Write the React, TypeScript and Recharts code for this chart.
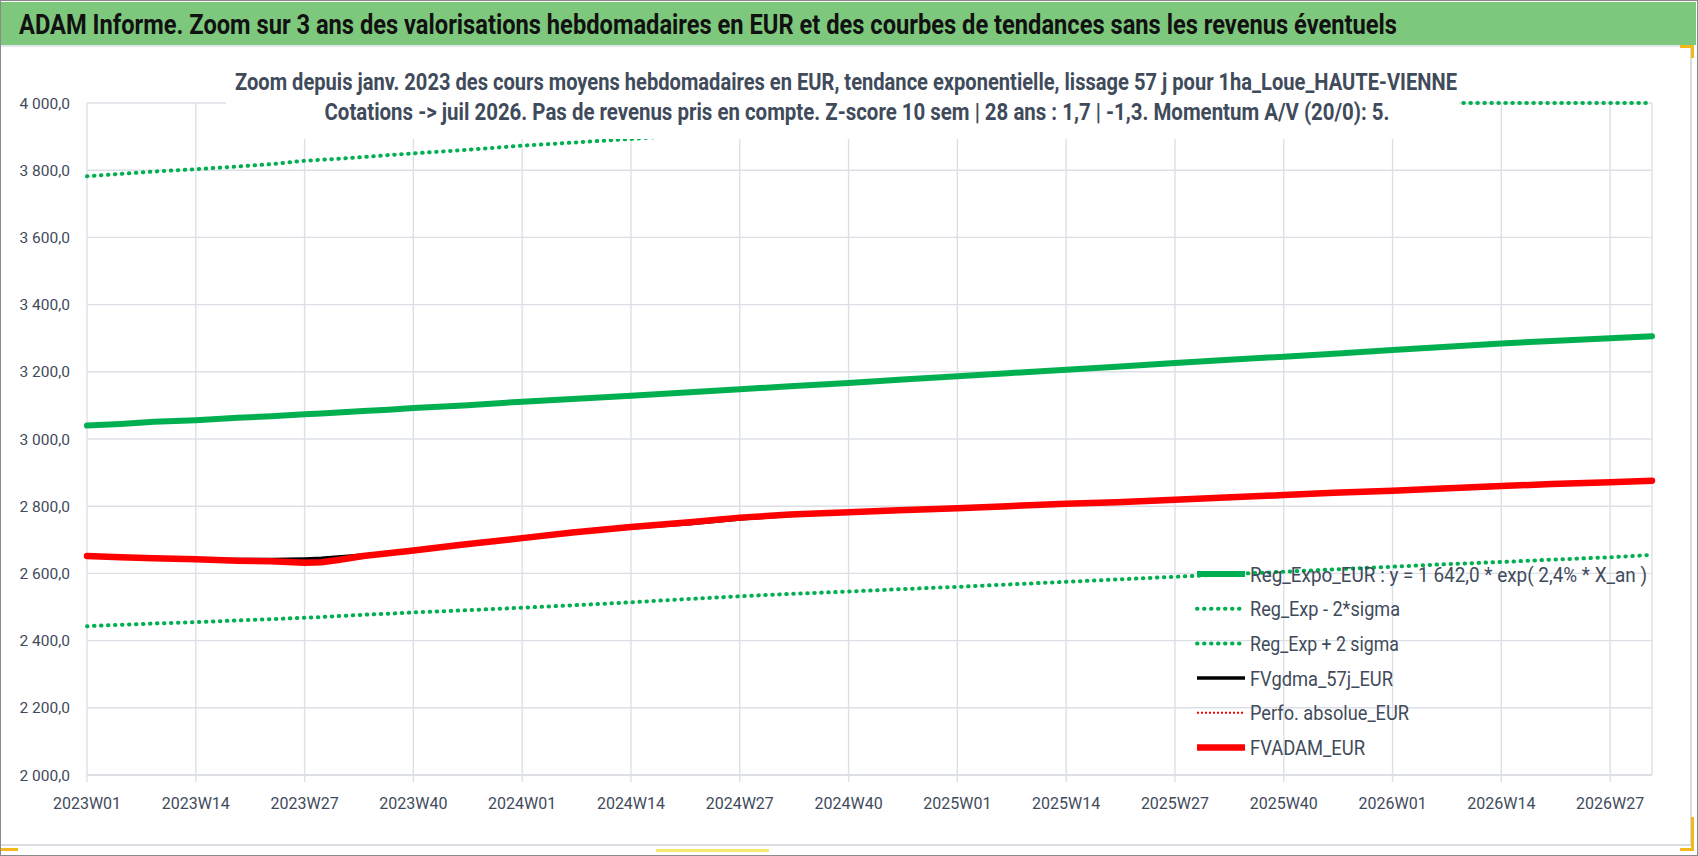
import { LineChart, Line, XAxis, YAxis, CartesianGrid, Legend } from 'recharts';

const W = 1698;
const H = 856;
const FONT = '"Liberation Sans Narrow", "Arial Narrow", Roboto, sans-serif';
const TEXT = '#3F4B5B';
const GRID = '#DCE0E6';

// week index counted from 2023W01 (0) to 2026W32 (187)
const weekIdx = [0, 4, 8, 13, 18, 22, 26, 28, 30, 33, 36, 39, 45, 52, 58, 65, 72, 78, 84, 91, 97, 104, 110, 117, 123, 130, 136, 143, 149, 156, 162, 169, 175, 182, 187];

const regExpo = [3040, 3045, 3051, 3056, 3063, 3068, 3074, 3076, 3079, 3083, 3087, 3092, 3100, 3111, 3119, 3129, 3139, 3148, 3157, 3167, 3176, 3187, 3196, 3206, 3215, 3226, 3235, 3245, 3254, 3265, 3274, 3284, 3292, 3300, 3306];
const regMinus2Sigma = [2443, 2447, 2451, 2455, 2460, 2464, 2468, 2470, 2473, 2477, 2480, 2484, 2490, 2498, 2505, 2514, 2524, 2532, 2539, 2546, 2553, 2560, 2567, 2575, 2582, 2590, 2597, 2605, 2612, 2620, 2627, 2634, 2641, 2648, 2655];
const regPlus2Sigma = [3782, 3789, 3796, 3803, 3811, 3818, 3828, 3831, 3834, 3839, 3845, 3850, 3860, 3873, 3882, 3893, 3905, 3916, 3927, 3940, 3951, 3965, 3976, 3989, 4000, 4013, 4024, 4037, 4048, 4062, 4073, 4086, 4096, 4106, 4115];
const fvGdma57j = [2652, 2648, 2645, 2642, 2641, 2641, 2643, 2645, 2649, 2655, 2661, 2668, 2686, 2705, 2721, 2736, 2748, 2762, 2772, 2781, 2788, 2794, 2800, 2807, 2812, 2819, 2826, 2833, 2840, 2846, 2853, 2860, 2866, 2871, 2876];
const perfoAbsolue = [2652, 2648, 2645, 2642, 2638, 2636, 2632, 2633, 2640, 2652, 2660, 2668, 2686, 2705, 2722, 2738, 2752, 2766, 2775, 2782, 2788, 2794, 2800, 2807, 2812, 2819, 2826, 2833, 2840, 2846, 2853, 2860, 2866, 2871, 2876];
const fvAdam = [2652, 2648, 2645, 2642, 2638, 2636, 2632, 2633, 2640, 2652, 2660, 2668, 2686, 2705, 2722, 2738, 2752, 2766, 2775, 2782, 2788, 2794, 2800, 2807, 2812, 2819, 2826, 2833, 2840, 2846, 2853, 2860, 2866, 2871, 2876];

const weekLabels = ['2023W01', '2023W14', '2023W27', '2023W40', '2024W01', '2024W14', '2024W27', '2024W40', '2025W01', '2025W14', '2025W27', '2025W40', '2026W01', '2026W14', '2026W27'];
const yTicks = [2000, 2200, 2400, 2600, 2800, 3000, 3200, 3400, 3600, 3800, 4000];

const Y_MIN = 2000;
const Y_MAX = 4000;
const LAST_WEEK = 187;
const TICK_STEP = 13;
const xTicks = weekLabels.map((_, i) => i * TICK_STEP);

const series = [
  { key: 'regExpo', name: 'Reg_Expo_EUR : y = 1 642,0 * exp( 2,4% *  X_an )', color: '#00B050', width: 6, labelW: 397 },
  { key: 'regLow', name: 'Reg_Exp - 2*sigma', color: '#00B050', width: 4, dash: '0.5 6.5', cap: 'round', labelW: 150 },
  { key: 'regHigh', name: 'Reg_Exp + 2 sigma', color: '#00B050', width: 4, dash: '0.5 6.5', cap: 'round', labelW: 149 },
  { key: 'gdma', name: 'FVgdma_57j_EUR', color: '#000000', width: 3.5, labelW: 143 },
  { key: 'perfo', name: 'Perfo. absolue_EUR', color: '#FF0000', width: 2, dash: '2 2', labelW: 159 },
  { key: 'adam', name: 'FVADAM_EUR', color: '#FF0000', width: 6.5, labelW: 115 },
];

const data = weekIdx.map((w, i) => ({
  w,
  regExpo: regExpo[i],
  regLow: regMinus2Sigma[i],
  // Excel pins the points above the axis max on the top edge
  regHigh: Math.min(regPlus2Sigma[i], Y_MAX),
  gdma: fvGdma57j[i],
  perfo: perfoAbsolue[i],
  adam: fvAdam[i],
}));

const fmtY = (v: number) => `${Math.floor(v / 1000)} ${String(v % 1000).padStart(3, '0')},0`;
const fmtX = (v: number) => weekLabels[Math.round(v / TICK_STEP)] ?? '';

function LegendBox() {
  return (
    <svg width={500} height={215} style={{ overflow: 'visible' }}>
      {series.map((s, i) => {
        const cy = 22 + i * 34.7;
        return (
          <g key={s.key}>
            <line
              x1={8}
              x2={56}
              y1={cy}
              y2={cy}
              stroke={s.color}
              strokeWidth={s.width}
              strokeDasharray={s.dash}
              strokeLinecap={(s.cap as any) ?? 'butt'}
            />
            <text
              x={61}
              y={cy}
              dy="0.36em"
              fontSize={21}
              fontFamily={FONT}
              fill={TEXT}
              textLength={s.labelW}
              lengthAdjust="spacingAndGlyphs"
            >
              {s.name}
            </text>
          </g>
        );
      })}
    </svg>
  );
}

export default function App() {
  return (
    <div style={{ position: 'absolute', left: 0, top: 0, width: W, height: H, background: '#fff', overflow: 'hidden' }}>
      <LineChart
        width={W}
        height={H}
        data={data}
        margin={{ top: 103, right: 46, bottom: 41, left: 7 }}
      >
        <CartesianGrid stroke={GRID} strokeWidth={1.4} />
        <XAxis
          dataKey="w"
          type="number"
          domain={[0, LAST_WEEK]}
          ticks={xTicks}
          interval={0}
          height={40}
          tickFormatter={fmtX}
          tickSize={7}
          tickMargin={16}
          tickLine={{ stroke: GRID, strokeWidth: 1.4 }}
          axisLine={{ stroke: GRID, strokeWidth: 2 }}
          tick={{ fill: TEXT, fontSize: 16, fontFamily: FONT }}
        />
        <YAxis
          type="number"
          domain={[Y_MIN, Y_MAX]}
          ticks={yTicks}
          interval={0}
          width={80}
          tickFormatter={fmtY}
          tickSize={0}
          tickMargin={17}
          tickLine={false}
          axisLine={false}
          tick={{ fill: TEXT, fontSize: 15.5, fontFamily: FONT }}
        />
        {series.map((s) => (
          <Line
            key={s.key}
            type="linear"
            dataKey={s.key}
            name={s.name}
            stroke={s.color}
            strokeWidth={s.width}
            strokeDasharray={s.dash}
            strokeLinecap={(s.cap as any) ?? 'round'}
            strokeLinejoin="round"
            dot={false}
            activeDot={false}
            isAnimationActive={false}
          />
        ))}
        <Legend
          layout="vertical"
          align="center"
          verticalAlign="middle"
          wrapperStyle={{ left: 1189, top: 552, width: 500, height: 215 }}
          content={() => <LegendBox />}
        />
      </LineChart>

      {/* chart title block, white box over the plot like in Excel */}
      <div style={{ position: 'absolute', left: 226, top: 60, width: 1233, height: 79, background: '#fff' }}>
        <svg width={1233} height={79} style={{ overflow: 'visible' }}>
          <text x={620} y={30} textAnchor="middle" textLength={1222} lengthAdjust="spacingAndGlyphs" fontSize={23} fontWeight="bold" fontFamily={FONT} fill={TEXT}>
            Zoom depuis janv. 2023 des cours moyens hebdomadaires en EUR, tendance exponentielle, lissage 57 j pour 1ha_Loue_HAUTE-VIENNE
          </text>
          <text x={631} y={60} textAnchor="middle" textLength={1065} lengthAdjust="spacingAndGlyphs" fontSize={23} fontWeight="bold" fontFamily={FONT} fill={TEXT}>
            Cotations -&gt; juil 2026.  Pas de revenus pris en compte. Z-score 10 sem | 28 ans : 1,7 | -1,3. Momentum A/V (20/0): 5.
          </text>
        </svg>
      </div>

      {/* green banner */}
      <div style={{ position: 'absolute', left: 1, top: 2, width: 1695, height: 43, background: '#7EC87E' }}>
        <svg width={1695} height={43}>
          <text x={18} y={32} textLength={1378} lengthAdjust="spacingAndGlyphs" fontSize={28} fontWeight="bold" fontFamily={FONT} fill="#111">
            ADAM Informe. Zoom sur 3 ans des valorisations hebdomadaires en EUR et des courbes de tendances sans les revenus éventuels
          </text>
        </svg>
      </div>

      {/* chart area frame and selection handles */}
      <div style={{ position: 'absolute', left: 1, top: 45, width: 1691, height: 801, boxSizing: 'border-box', borderTop: '2px solid #E3E6EA', borderRight: '2px solid #D9DCE0', borderBottom: '2px solid #D9DCE0' }} />
      <div style={{ position: 'absolute', left: 1680, top: 45, width: 14, height: 3, background: '#F2B81C' }} />
      <div style={{ position: 'absolute', left: 1691, top: 45, width: 3, height: 13, background: '#F2B81C' }} />
      <div style={{ position: 'absolute', left: 1691, top: 817, width: 3, height: 34, background: '#F2B81C' }} />
      <div style={{ position: 'absolute', left: 1680, top: 848, width: 14, height: 3, background: '#F2B81C' }} />
      <div style={{ position: 'absolute', left: 1, top: 848, width: 17, height: 3, background: '#F2B81C' }} />
      <div style={{ position: 'absolute', left: 656, top: 849, width: 113, height: 3, background: '#F6E86C' }} />
      <div style={{ position: 'absolute', left: 0, top: 0, width: W, height: H, boxSizing: 'border-box', border: '1.5px solid #8A8A8A', pointerEvents: 'none' }} />
    </div>
  );
}
